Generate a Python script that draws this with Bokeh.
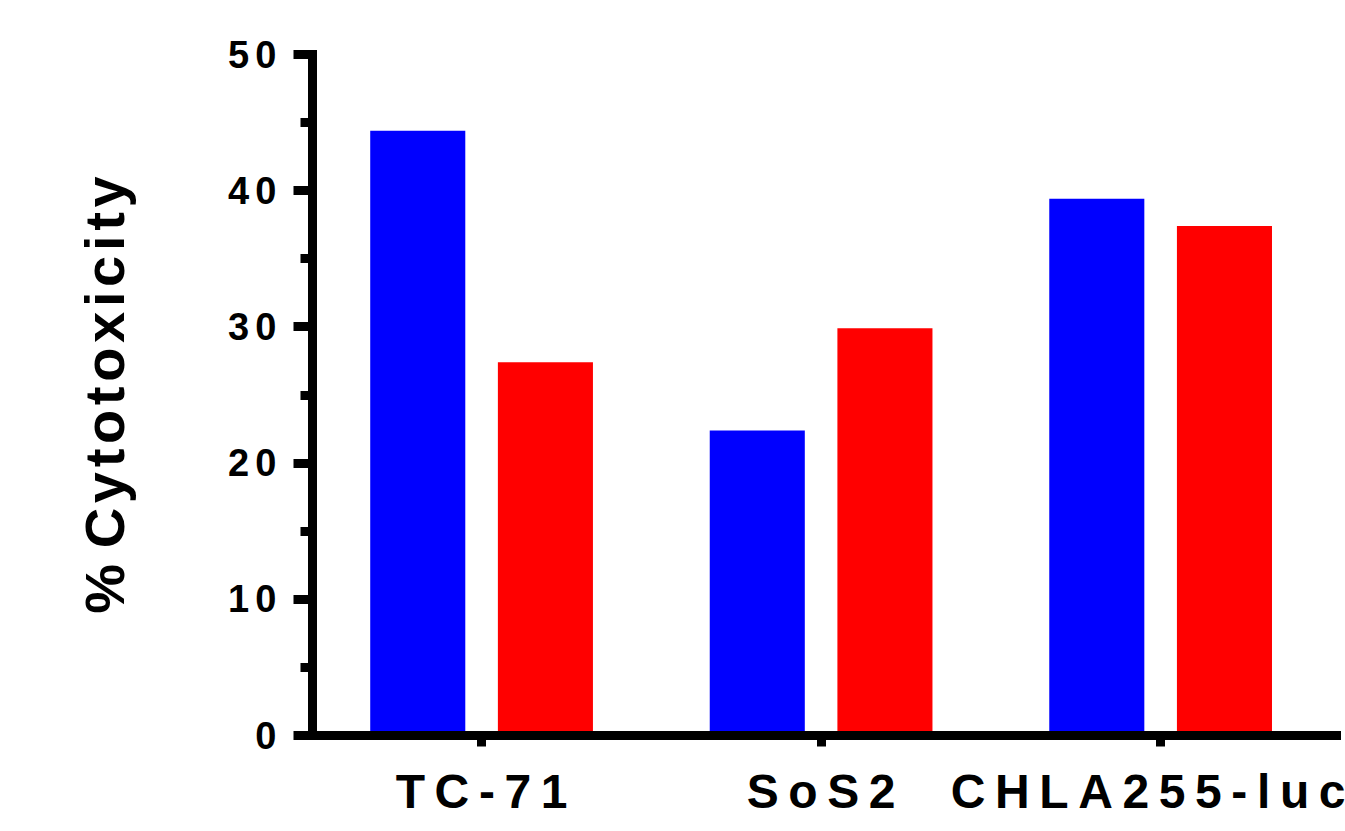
from bokeh.plotting import figure
from bokeh.models import ColumnDataSource, FixedTicker, Range1d
from bokeh.transform import dodge
from bokeh.embed import file_html
from bokeh.resources import INLINE

categories = ["TC-71", "SoS2", "CHLA255-luc"]
blue_values = [44.4, 22.4, 39.4]
red_values = [27.4, 29.9, 37.4]
y_ticks = [0, 10, 20, 30, 40, 50]
y_minor_ticks = [5, 15, 25, 35, 45]
y_label = "% Cytotoxicity"

NB = "\u00a0"
HAIR = "\u200a"
SIX = "\u2006"
THIN = "\u2009"
FONT = "Liberation Sans"


def spaced(s, gap):
    return gap.join(ch for ch in s if ch != " ")


x_pos = [i + 1 for i in range(len(categories))]
src = ColumnDataSource(dict(x=x_pos, blue=blue_values, red=red_values))

p = figure(width=1345, height=831, output_backend="svg", toolbar_location=None,
           x_range=Range1d(0.502, 3.518), y_range=Range1d(0, 50),
           min_border_left=312, min_border_right=9, min_border_top=54, min_border_bottom=96)
p.background_fill_color = "white"
p.border_fill_color = "white"
p.outline_line_color = None
p.grid.visible = False

p.vbar(x=dodge("x", -0.188, range=p.x_range), top="blue", width=0.28, bottom=0,
       source=src, fill_color="#0000FF", line_color=None)
p.vbar(x=dodge("x", 0.188, range=p.x_range), top="red", width=0.28, bottom=0,
       source=src, fill_color="#FF0000", line_color=None)

# y axis
ya = p.yaxis[0]
ya.ticker = FixedTicker(ticks=y_ticks, minor_ticks=y_minor_ticks)
ya.major_label_overrides = {t: spaced(str(t), SIX) for t in y_ticks}
ya.axis_line_width = 9
ya.axis_line_color = "black"
ya.axis_line_cap = "square"
ya.major_tick_line_width = 9
ya.major_tick_out = 19
ya.major_tick_in = 0
ya.minor_tick_line_width = 9
ya.minor_tick_out = 12
ya.minor_tick_in = 0
ya.major_label_standoff = 17
ya.major_label_text_font = FONT
ya.major_label_text_font_style = "bold"
ya.major_label_text_font_size = "38px"
ya.major_label_text_color = "black"
pct, word = y_label.split(" ", 1)
ya.axis_label = pct + NB + spaced(word, HAIR)
ya.axis_label_text_font = FONT
ya.axis_label_text_font_style = "bold"
ya.axis_label_text_font_size = "56px"
ya.axis_label_text_color = "black"
ya.axis_label_standoff = 89

# x axis
xa = p.xaxis[0]
xa.ticker = FixedTicker(ticks=x_pos, minor_ticks=[])
xa.major_label_overrides = {x: spaced(c, THIN) for x, c in zip(x_pos, categories)}
xa.axis_line_width = 9
xa.axis_line_color = "black"
xa.axis_line_cap = "square"
xa.major_tick_line_width = 9
xa.major_tick_out = 11
xa.major_tick_in = 0
xa.minor_tick_line_color = None
xa.major_label_standoff = 18
xa.major_label_text_font = FONT
xa.major_label_text_font_style = "bold"
xa.major_label_text_font_size = "48px"
xa.major_label_text_color = "black"

open("out.html", "w").write(file_html(p, INLINE))
